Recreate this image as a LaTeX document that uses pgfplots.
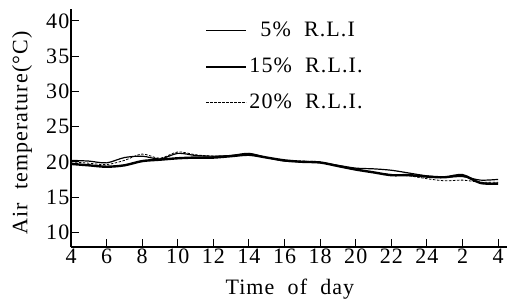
\documentclass[border=0pt]{standalone}
\usepackage{fontspec}
\setmainfont{Liberation Serif}[LetterSpace=5]
\usepackage{pgfplots}
\pgfplotsset{compat=1.18}
\begin{document}
\fontsize{22bp}{25bp}\selectfont
\begin{tikzpicture}
\begin{axis}[
  scale only axis,
  width=436bp, height=238bp,
  xmin=4, xmax=28.5, ymin=7.9, ymax=41.7,
  axis lines*=left,
  axis line style={line width=1.2bp},
  xtick={4,6,...,28},
  xticklabels={4,6,8,10,12,14,16,18,20,22,24,2,4},
  ytick={10,15,...,40},
  major tick length=8bp,
  tick style={line width=1bp, black},
  tick align=inside,
  /pgf/number format/assume math mode=true,
  xticklabel style={inner sep=1bp, yshift=-1bp},
  yticklabel style={inner sep=1.5bp},
  xlabel={Time \ of \ day},
  ylabel={Air \ temperature(°C)},
  xlabel style={at={(axis description cs:0.502,-0.175)}, anchor=center},
  ylabel style={at={(axis description cs:-0.112,0.479)}, anchor=center},
  legend style={draw=none, fill=none, at={(axis description cs:0.307,0.955)}, anchor=north west, inner sep=0pt, row sep=14bp,
    /tikz/every even column/.append style={column sep=2bp}},
  legend cell align=left,
  legend image code/.code={\draw[#1] (0bp,0bp) -- (40bp,0bp);},
]
\addplot[black, line width=1.2bp, smooth] coordinates {
(4,20.2)(5,20.1)(6,19.85)(7,20.6)(8,20.8)(9,20.4)(10,21.2)(11,20.9)(12,20.8)(13,20.9)(14,21.2)(15,20.6)(16,20.1)(17,20.0)(18,19.9)(19,19.5)(20,19.1)(21,19.0)(22,18.8)(23,18.4)(24,18.0)(25,17.8)(26,17.9)(27,17.4)(28,17.5)};
\addlegendentry{\hphantom{1}5\% \ R.L.I}
\addplot[black, line width=2.4bp, smooth] coordinates {
(4,19.7)(5,19.5)(6,19.3)(7,19.5)(8,20.1)(9,20.3)(10,20.5)(11,20.6)(12,20.6)(13,20.8)(14,21.0)(15,20.6)(16,20.2)(17,20.0)(18,19.9)(19,19.4)(20,18.9)(21,18.5)(22,18.1)(23,18.1)(24,17.9)(25,17.8)(26,18.1)(27,17.0)(28,16.9)};
\addlegendentry{15\% \ R.L.I.}
\addplot[black, line width=0.8bp, dash pattern=on 2.5bp off 1.5bp, smooth] coordinates {
(4,20.0)(5,19.8)(6,19.6)(7,20.2)(8,21.1)(9,20.5)(10,21.4)(11,21.0)(12,20.8)(13,20.9)(14,21.1)(15,20.6)(16,20.2)(17,20.1)(18,20.0)(19,19.4)(20,18.9)(21,18.5)(22,18.2)(23,18.0)(24,17.6)(25,17.3)(26,17.4)(27,17.1)(28,17.1)};
\addlegendentry{20\% \ R.L.I.}
\draw[line width=1bp] (axis cs:4,9.4) -- ++(6bp,0);
\end{axis}
\pgfresetboundingbox
\path (-71bp,-56bp) rectangle (436bp,247bp);
\end{tikzpicture}
\end{document}
